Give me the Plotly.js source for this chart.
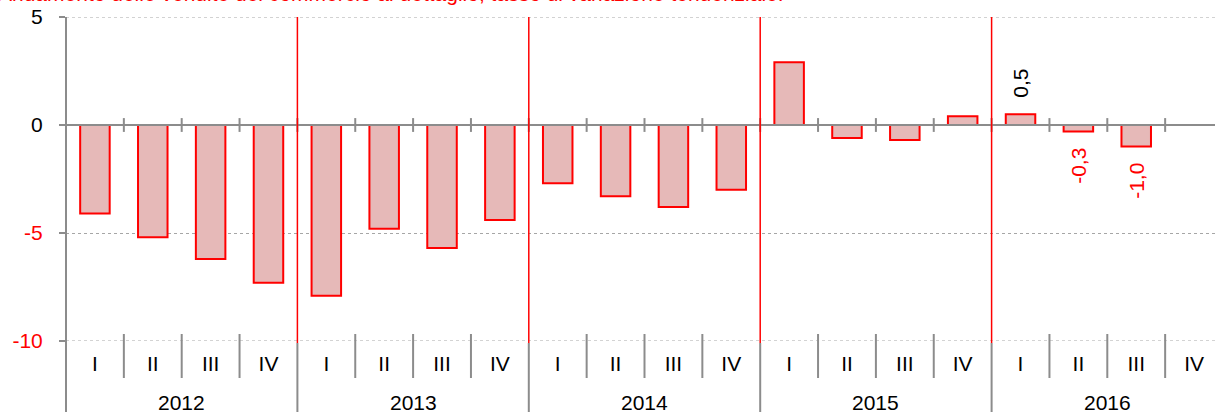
<!DOCTYPE html>
<html>
<head>
<meta charset="utf-8">
<script src="https://cdn.plot.ly/plotly-3.0.1.min.js"></script>
<style>html,body{margin:0;padding:0;background:#fff;}#chart{width:1215px;height:412px;}</style>
</head>
<body>
<div id="chart"></div>
<script>
// ---- data ----
var years = ['2012', '2013', '2014', '2015', '2016'];
var quarters = ['I', 'II', 'III', 'IV'];
var values = [
  -4.1, -5.2, -6.2, -7.3,
  -7.9, -4.8, -5.7, -4.4,
  -2.7, -3.3, -3.8, -3.0,
  2.9, -0.6, -0.7, 0.4,
  0.5, -0.3, -1.0, null
];
var dataLabels = ['', '', '', '', '', '', '', '', '', '', '', '', '', '', '', '', '0,5', '-0,3', '-1,0', ''];
var yTickVals = [5, 0, -5, -10];
var yTickText = ['5', '0', '-5', '-10'];
var titleText = 'Andamento delle vendite del commercio al dettaglio, tasso di variazione tendenziale.';

// ---- build ----
var FONT = '"Liberation Sans", Arial, Helvetica, sans-serif';
var GRAY = '#8c8c8c';
var RED = '#ff0000';
var W = 1215, H = 412, ML = 66, MT = 17, MB = 71;
var plotW = W - ML, plotH = H - MT - MB;
var slot = 57.85;
var xMax = -0.5 + plotW / slot;

var xIdx = [], tickText = [];
years.forEach(function (y, yi) {
  quarters.forEach(function (q, qi) {
    xIdx.push(yi * quarters.length + qi);
    tickText.push(q);
  });
});

function py(px) { return (H - MB - px) / plotH; } // pixel row -> paper y

var shapes = [];
var nQ = xIdx.length;
// dotted gridlines at the range ends (Plotly omits these)
[yTickVals[0], yTickVals[yTickVals.length - 1]].forEach(function (gv) {
  shapes.push({type: 'line', xref: 'paper', yref: 'y', x0: 0, x1: 1, y0: gv, y1: gv,
    line: {color: '#a6a6a6', width: 1, dash: 'dot'}, layer: 'below'});
});
// zero line (above bars)
shapes.push({type: 'line', xref: 'paper', yref: 'y', x0: -6 / plotW, x1: 1, y0: 0, y1: 0,
  line: {color: GRAY, width: 2}, layer: 'above'});
// left axis line extending down through label area
shapes.push({type: 'line', xref: 'paper', yref: 'paper', x0: 0, x1: 0, y0: 1, y1: py(H),
  line: {color: GRAY, width: 2}, layer: 'above'});
for (var k = 0; k < nQ; k++) {
  var bx = k + 0.5;
  var isYear = ((k + 1) % quarters.length === 0);
  // tick across zero line
  shapes.push({type: 'line', xref: 'x', yref: 'y', x0: bx, x1: bx, y0: 0.32, y1: -0.32,
    line: {color: GRAY, width: 2}, layer: 'above'});
  if (isYear) {
    shapes.push({type: 'line', xref: 'x', yref: 'paper', x0: bx, x1: bx, y0: 1, y1: py(343),
      line: {color: RED, width: 1.5}, layer: 'above'});
    shapes.push({type: 'line', xref: 'x', yref: 'paper', x0: bx, x1: bx, y0: py(343), y1: py(H),
      line: {color: GRAY, width: 2}, layer: 'above'});
  } else {
    shapes.push({type: 'line', xref: 'x', yref: 'paper', x0: bx, x1: bx, y0: py(334), y1: py(378),
      line: {color: GRAY, width: 2}, layer: 'above'});
  }
}

var annotations = [];
annotations.push({xref: 'paper', yref: 'paper', x: (786 - ML) / plotW, y: py(7.5),
  xanchor: 'right', yanchor: 'bottom', showarrow: false, text: titleText,
  font: {family: FONT, size: 21, color: RED}});
years.forEach(function (y, yi) {
  annotations.push({xref: 'x', yref: 'paper', x: yi * quarters.length + (quarters.length - 1) / 2,
    y: py(402), xanchor: 'center', yanchor: 'middle', showarrow: false, text: y,
    font: {family: FONT, size: 21, color: '#000'}});
});
dataLabels.forEach(function (t, i) {
  if (!t) return;
  var v = values[i];
  annotations.push({xref: 'x', yref: 'y', x: xIdx[i], y: v, xanchor: 'center', yanchor: 'middle',
    yshift: v >= 0 ? 31 : -34, textangle: -90, showarrow: false, text: t,
    font: {family: FONT, size: 21, color: v >= 0 ? '#000' : RED}});
});

var trace = {
  type: 'bar', x: xIdx, y: values, width: 0.51,
  marker: {color: '#e6b9b8', line: {color: RED, width: 2}},
  hoverinfo: 'skip'
};

var layout = {
  width: W, height: H, autosize: false,
  margin: {l: ML, r: 0, t: MT, b: MB, pad: 0},
  paper_bgcolor: '#fff', plot_bgcolor: '#fff',
  showlegend: false,
  font: {family: FONT, size: 21, color: '#000'},
  xaxis: {
    range: [-0.5, xMax], tickmode: 'array', tickvals: xIdx, ticktext: tickText,
    showgrid: false, zeroline: false, showline: false,
    ticks: 'outside', ticklen: 4, tickcolor: 'rgba(0,0,0,0)',
    tickfont: {family: FONT, size: 21, color: '#000'}, fixedrange: true
  },
  yaxis: {
    range: [-10, 5], tickmode: 'array', tickvals: yTickVals,
    ticktext: yTickText.map(function (t, i) {
      return yTickVals[i] < 0 ? '<span style="color:' + RED + '">' + t + '</span>' : t;
    }),
    showgrid: true, gridcolor: '#a6a6a6', griddash: 'dot', gridwidth: 1,
    zeroline: false, showline: false,
    ticks: 'outside', ticklen: 6, tickwidth: 2, tickcolor: GRAY, ticklabelstandoff: 12,
    tickfont: {family: FONT, size: 21, color: '#000'}, fixedrange: true
  },
  shapes: shapes,
  annotations: annotations
};

Plotly.newPlot('chart', [trace], layout, {displayModeBar: false, staticPlot: true});
</script>
</body>
</html>
